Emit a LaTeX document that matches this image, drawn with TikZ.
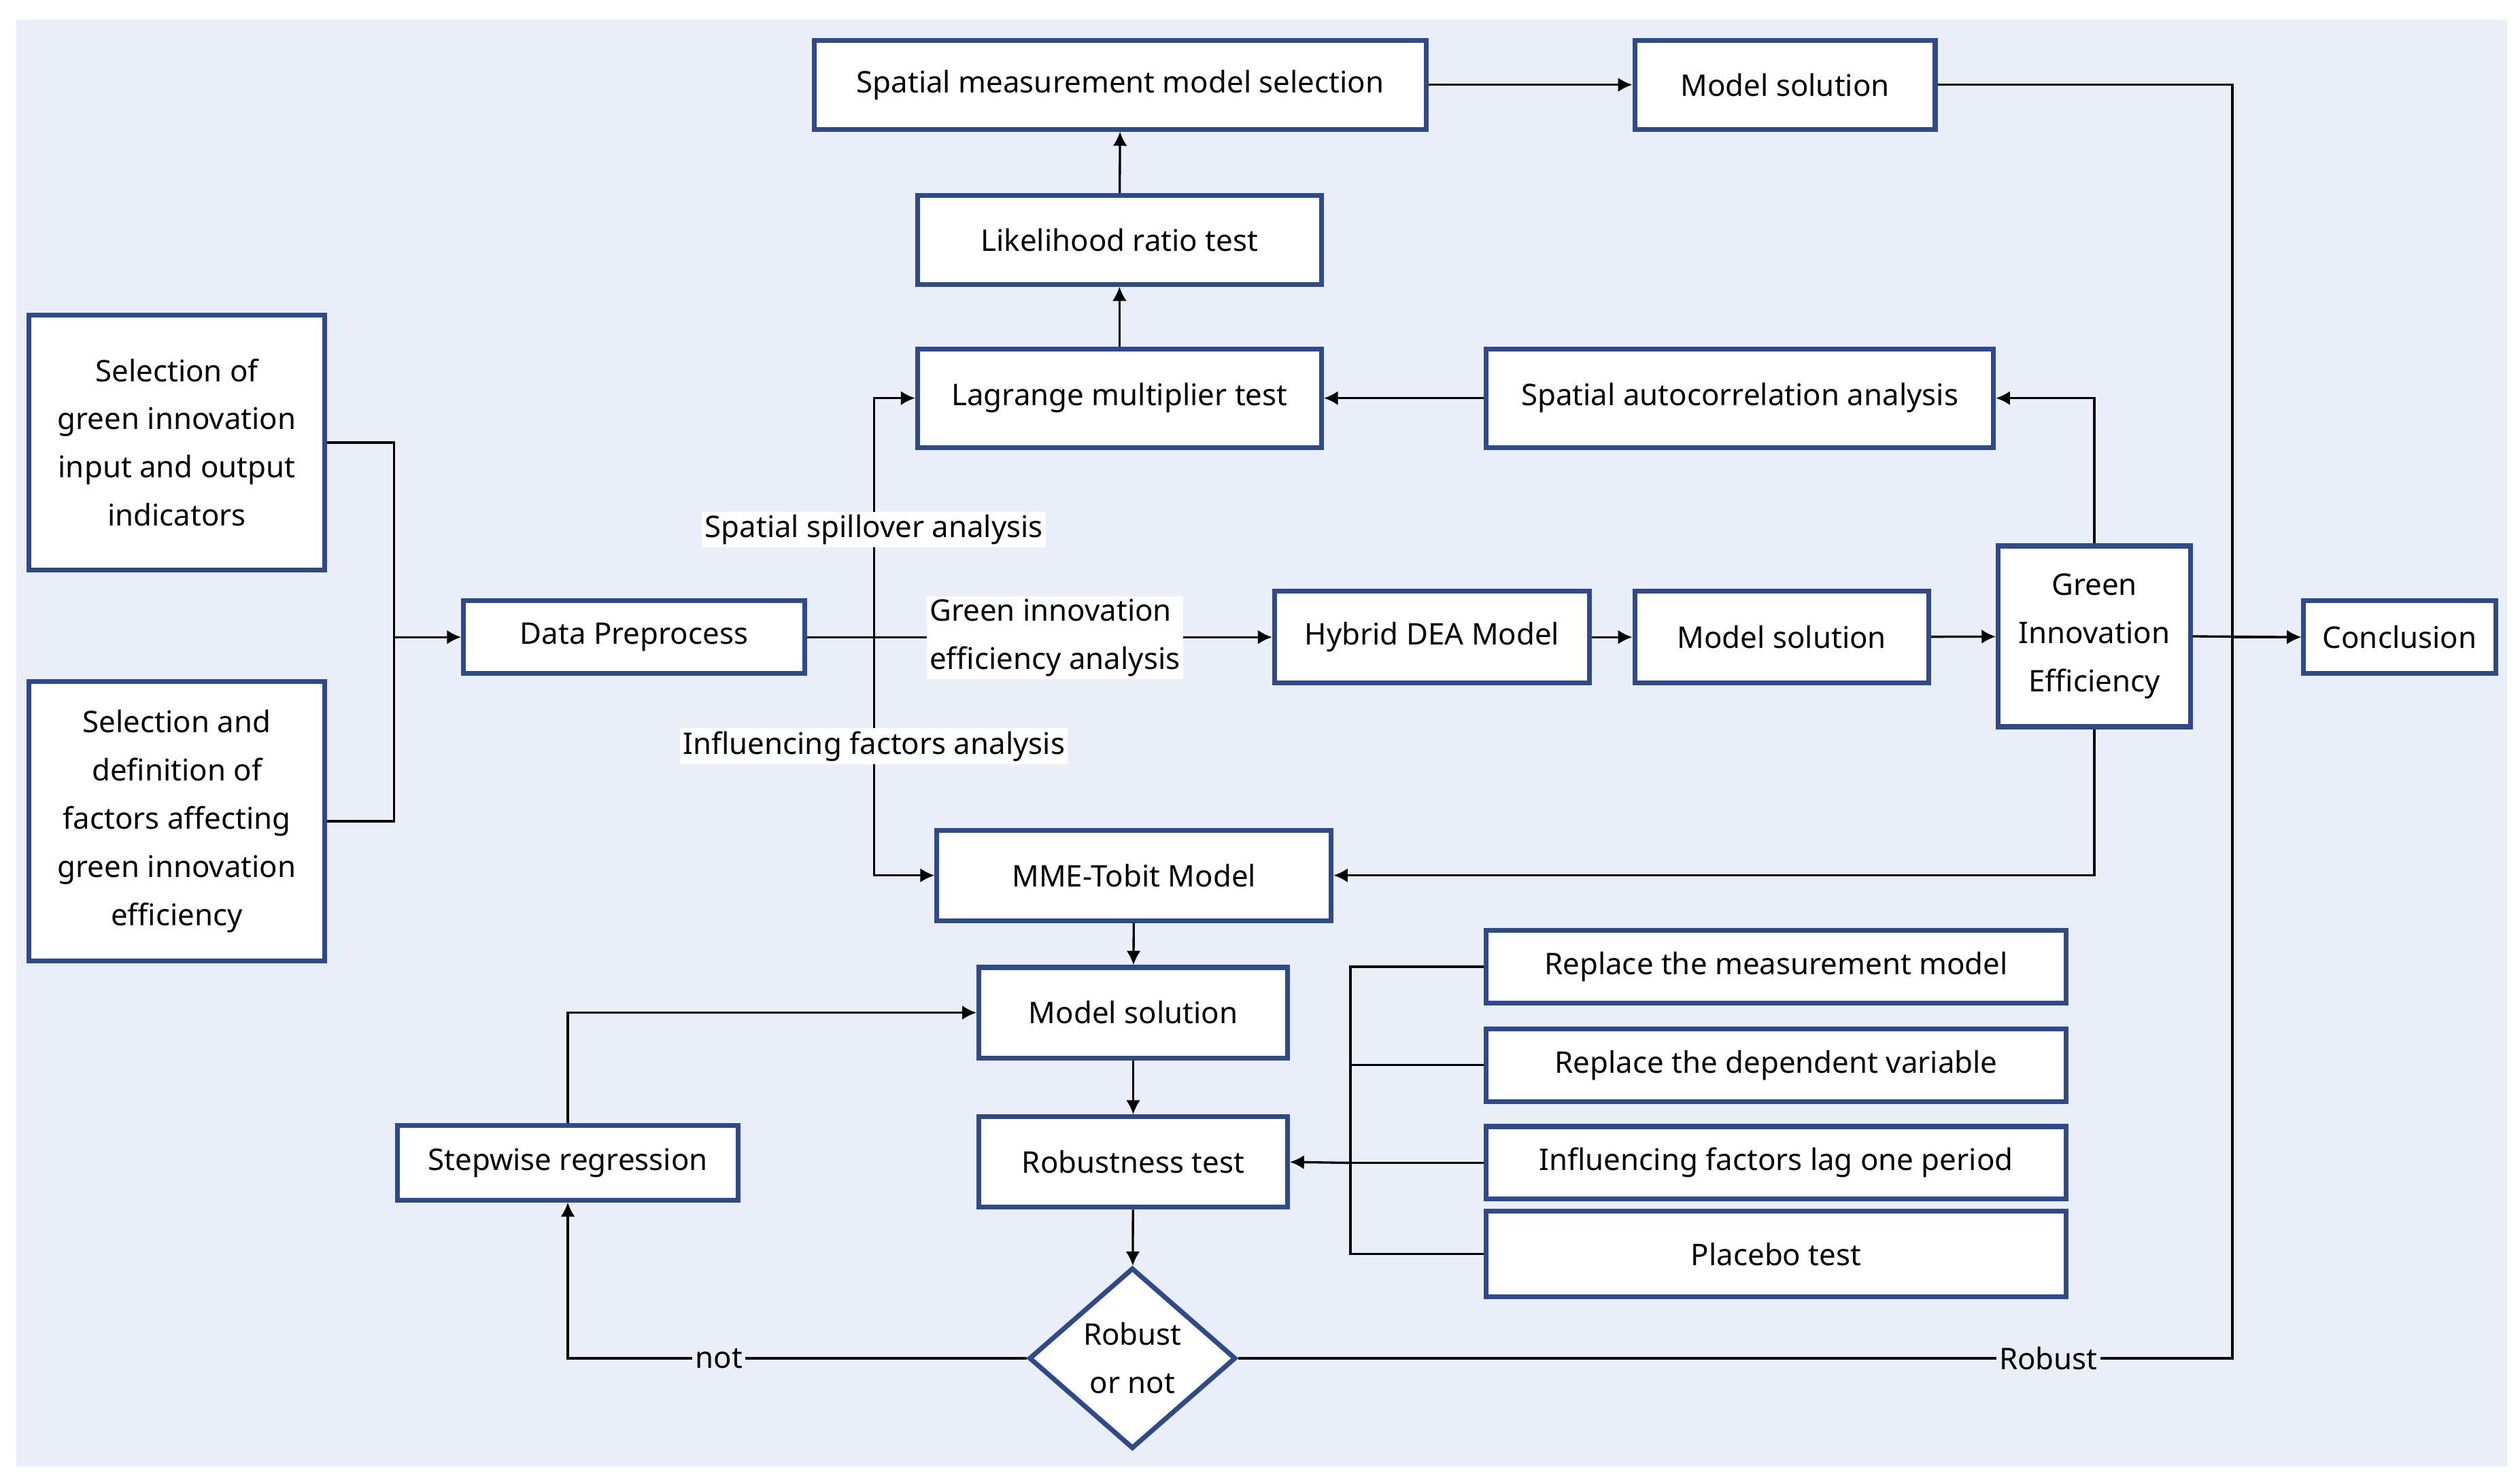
\documentclass[tikz,border=0pt]{standalone}
\usepackage{fontspec}
\setmainfont{Noto Sans}
\usetikzlibrary{shapes.geometric,arrows.meta}
\definecolor{bx}{HTML}{2F4A8A}
\definecolor{bg}{HTML}{E9EEF8}
\begin{document}
\begin{tikzpicture}[x=0.02cm,y=-0.02cm,
  every node/.style={font=\fontsize{10.5}{17}\selectfont},
  b/.style={draw=bx,line width=1.7pt,fill=white,align=center,inner sep=0pt},
  lab/.style={fill=white,inner sep=1pt,align=left},
  l/.style={line width=0.8pt},
  a/.style={l,-{Latex[length=5pt,width=5pt]}}]
\useasboundingbox (0,0) rectangle (1560,916);
\fill[bg] (10,12) rectangle (1552,908);
\node[b,minimum width=379*0.02cm,minimum height=55*0.02cm] (smms) at (693.5,52.5) {Spatial measurement model selection};
\node[b,minimum width=186*0.02cm,minimum height=55*0.02cm] (ms1) at (1105,52.5) {Model solution};
\node[b,minimum width=250*0.02cm,minimum height=55*0.02cm] (lrt) at (693,148.5) {Likelihood ratio test};
\node[b,minimum width=250*0.02cm,minimum height=61*0.02cm] (lmt) at (693,246.5) {Lagrange multiplier test};
\node[b,minimum width=314*0.02cm,minimum height=61*0.02cm] (saa) at (1077,246.5) {Spatial autocorrelation analysis};
\node[b,minimum width=183*0.02cm,minimum height=158*0.02cm] (s1) at (109.5,274) {Selection of\\green innovation\\input and output\\indicators};
\node[b,minimum width=183*0.02cm,minimum height=173*0.02cm] (s2) at (109.5,508.5) {Selection and\\definition of\\factors affecting\\green innovation\\efficiency};
\node[b,minimum width=211*0.02cm,minimum height=45*0.02cm] (dp) at (392.5,394.5) {Data Preprocess};
\node[b,minimum width=195*0.02cm,minimum height=57*0.02cm] (hdea) at (886.5,394.5) {Hybrid DEA Model};
\node[b,minimum width=182*0.02cm,minimum height=57*0.02cm] (ms2) at (1103,394.5) {Model solution};
\node[b,minimum width=119*0.02cm,minimum height=112*0.02cm] (gie) at (1296.5,394) {Green\\Innovation\\Efficiency};
\node[b,minimum width=119*0.02cm,minimum height=45*0.02cm] (conc) at (1485.5,394.5) {Conclusion};
\node[b,minimum width=244*0.02cm,minimum height=56*0.02cm] (mme) at (702,542) {MME-Tobit Model};
\node[b,minimum width=191*0.02cm,minimum height=56*0.02cm] (ms3) at (701.5,627) {Model solution};
\node[b,minimum width=191*0.02cm,minimum height=56*0.02cm] (rt) at (701.5,719.5) {Robustness test};
\node[b,minimum width=211*0.02cm,minimum height=46*0.02cm] (sr) at (351.5,720) {Stepwise regression};
\node[b,minimum width=359*0.02cm,minimum height=45*0.02cm] (r1) at (1099.5,598.5) {Replace the measurement model};
\node[b,minimum width=359*0.02cm,minimum height=45*0.02cm] (r2) at (1099.5,659.5) {Replace the dependent variable};
\node[b,minimum width=359*0.02cm,minimum height=45*0.02cm] (r3) at (1099.5,720) {Influencing factors lag one period};
\node[b,minimum width=359*0.02cm,minimum height=53*0.02cm] (r4) at (1099.5,776.5) {Placebo test};
\node[b,diamond,aspect=1.14,minimum width=128*0.02cm,minimum height=112*0.02cm] (dm) at (701,841) {Robust\\or not};
% coordinates
\coordinate (j1) at (244,394.5);
\coordinate (j2) at (541,394.5);
\coordinate (j3) at (1382,394.5);
\coordinate (j4) at (836,720);
% left merge
\draw[l] (s1.east) -| (j1);
\draw[l] (s2.east) -| (j1);
\draw[a] (j1) -- (dp.west);
\draw[l] (dp.east) -- (j2);
\draw[a] (j2) |- (lmt.west);
\draw[a] (j2) |- (mme.west);
\draw[a] (j2) -- (hdea.west);
\node[lab] at (541,328) {Spatial spillover analysis};
\node[lab] at (541,462) {Influencing factors analysis};
\node[lab] at (653,395) {Green innovation\\efficiency analysis};
\draw[a] (lmt) -- (lrt);
\draw[a] (lrt) -- (smms);
\draw[a] (smms) -- (ms1);
\draw[a] (hdea) -- (ms2);
\draw[a] (ms2) -- (gie);
\draw[a] (gie.north) |- (saa.east);
\draw[a] (saa) -- (lmt);
\draw[a] (gie.south) |- (mme.east);
\draw[a] (gie.east) -- (conc.west);
\draw[l] (ms1.east) -| (j3);
\draw[l] (dm.east) -| (j3);
\draw[a] (j3) -- (conc.west);
\node[lab,fill=bg] at (1268,841) {Robust};
\draw[a] (mme) -- (ms3);
\draw[a] (ms3) -- (rt);
\draw[a] (rt) -- (dm);
\foreach \r in {r1,r2,r3,r4} \draw[l] (\r.west) -| (j4);
\draw[a] (j4) -- (rt.east);
\draw[a] (dm.west) -| (sr.south);
\node[lab,fill=bg] at (445,841) {not};
\draw[a] (sr.north) |- (ms3.west);
\end{tikzpicture}
\end{document}
